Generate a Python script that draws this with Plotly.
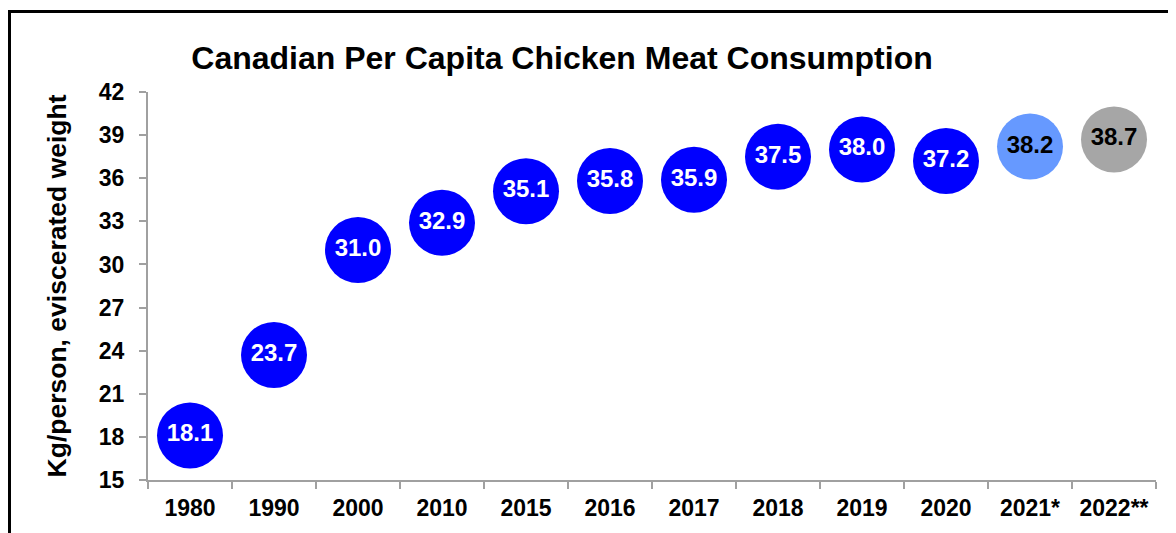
import plotly.graph_objects as go

# data
years = ['1980', '1990', '2000', '2010', '2015', '2016', '2017', '2018', '2019', '2020', '2021*', '2022**']
consumption = [18.1, 23.7, 31.0, 32.9, 35.1, 35.8, 35.9, 37.5, 38.0, 37.2, 38.2, 38.7]
point_colors = ['#0000FF'] * 10 + ['#6699FF', '#A6A6A6']
label_colors = ['white'] * 10 + ['black', 'black']

FONT = 'Arial, Liberation Sans, sans-serif'
# page has an 8px body margin, so the figure is a bit smaller than the window
W, H = 1168, 525
ML, MR, MT, MB = 140, 20, 84, 51

fig = go.Figure()

fig.add_trace(go.Scatter(
    x=years,
    y=consumption,
    mode='markers+text',
    marker=dict(size=66, color=point_colors, line=dict(width=0)),
    text=[f'{v:.1f}' for v in consumption],
    textposition='middle center',
    textfont=dict(family=FONT, size=24, color=label_colors, weight='bold'),
    cliponaxis=False,
    hoverinfo='x+y',
    showlegend=False,
))

# outer frame (only left and top edges are visible)
pw, ph = W - ML - MR, H - MT - MB
def px_x(p):
    return (p - ML) / pw
def px_y(p):
    return 1 - (p - MT) / ph

fig.add_shape(type='line', xref='paper', yref='paper',
              x0=px_x(1.5), x1=px_x(1.5), y0=px_y(540), y1=px_y(2),
              line=dict(color='black', width=3))
fig.add_shape(type='line', xref='paper', yref='paper',
              x0=px_x(0), x1=px_x(1200), y0=px_y(3), y1=px_y(3),
              line=dict(color='black', width=3))

fig.update_layout(
    width=W,
    height=H,
    margin=dict(l=ML, r=MR, t=MT, b=MB),
    paper_bgcolor='white',
    plot_bgcolor='white',
    font=dict(family=FONT, color='black'),
    title=dict(
        text='<b>Canadian Per Capita Chicken Meat Consumption</b>',
        font=dict(size=32, color='black'),
        x=554 / W, xanchor='center',
        y=1 - 50 / H, yanchor='middle',
        xref='container', yref='container',
    ),
)

fig.update_xaxes(
    type='category',
    range=[-0.5, 11.5],
    showline=True, linecolor='#A0A0A0', linewidth=2,
    ticks='outside', tickson='boundaries', ticklen=7, tickcolor='#A0A0A0', tickwidth=2,
    tickfont=dict(size=23, color='black', weight='bold'),
    ticklabelstandoff=6,
    showgrid=False, zeroline=False,
)

fig.update_yaxes(
    range=[15, 42],
    dtick=3,
    showline=True, linecolor='#A0A0A0', linewidth=2,
    ticks='outside', ticklen=7, tickcolor='#A0A0A0', tickwidth=2,
    tickfont=dict(size=23, color='black', weight='bold'),
    ticklabelstandoff=10,
    showgrid=False, zeroline=False,
    title=dict(text='<b>Kg/person, eviscerated weight</b>', font=dict(size=26.5, color='black'), standoff=25),
)

fig.write_html('out.html')
